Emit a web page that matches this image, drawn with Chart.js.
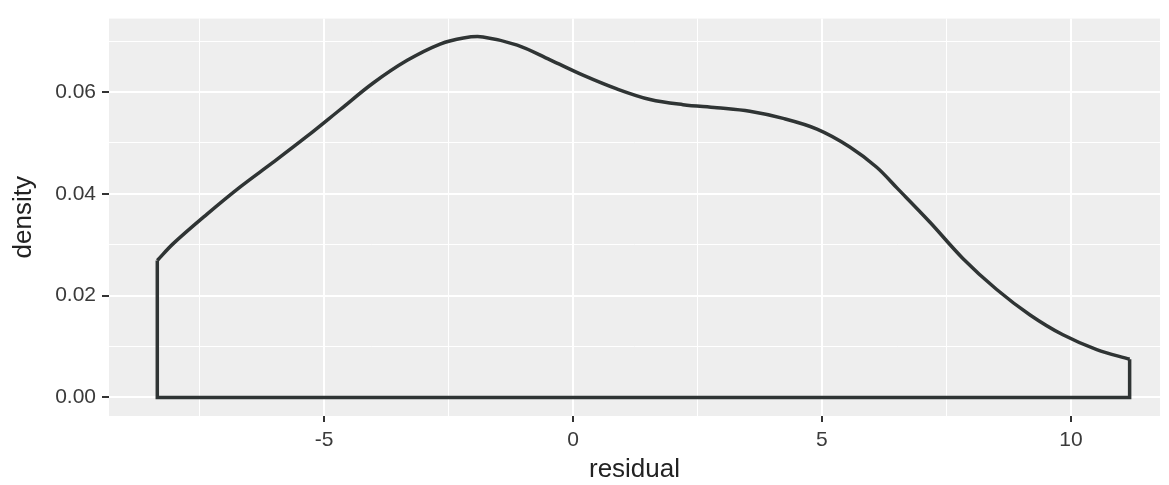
<!DOCTYPE html>
<html>
<head>
<meta charset="utf-8">
<script src="https://cdn.jsdelivr.net/npm/chart.js@4"></script>
<style>
  html, body { margin: 0; padding: 0; background: #ffffff; }
  #wrap { width: 1169px; height: 485px; }
</style>
</head>
<body>
<div id="wrap"><canvas id="c" width="1169" height="485"></canvas></div>
<script>
// ---- data ----
const residualX = [-8.35, -8.03, -7.35, -6.69, -6.02, -5.34, -4.68, -4.02, -3.33, -2.67, -2.20, -1.81, -1.12, -0.46, 0.20, 0.88, 1.55, 2.21, 2.89, 3.55, 4.22, 4.90, 5.56, 6.10, 6.51, 7.17, 7.83, 8.51, 9.18, 9.84, 10.52, 11.18];
const densityY  = [0.0269, 0.0302, 0.0360, 0.0413, 0.0462, 0.0513, 0.0565, 0.0617, 0.0662, 0.0694, 0.0706, 0.0708, 0.0692, 0.0663, 0.0633, 0.0606, 0.0585, 0.0575, 0.0569, 0.0562, 0.0548, 0.0527, 0.0492, 0.0452, 0.0411, 0.0344, 0.0273, 0.0212, 0.0162, 0.0123, 0.0094, 0.0075];
const xGridValues = [-7.5, -5, -2.5, 0, 2.5, 5, 7.5, 10];
const xTickLabels = ['-5', '0', '5', '10'];
const yGridValues = [0, 0.01, 0.02, 0.03, 0.04, 0.05, 0.06, 0.07];
const yTickLabels = ['0.00', '0.02', '0.04', '0.06'];
const xTitle = 'residual';
const yTitle = 'density';

// ---- derived structures ----
const curvePoints = residualX.map((x, i) => ({ x: x, y: densityY[i] }));
const n = residualX.length;
const framePoints = [
  { x: residualX[0], y: densityY[0] },
  { x: residualX[0], y: 0 },
  { x: residualX[n - 1], y: 0 },
  { x: residualX[n - 1], y: densityY[n - 1] }
];

function labelFor(v, labels) {
  for (const l of labels) {
    if (Math.abs(parseFloat(l) - v) < 1e-9) return l;
  }
  return '';
}
function isMajor(v, labels) { return labelFor(v, labels) !== ''; }

const panelBg = {
  id: 'panelBg',
  beforeDraw(chart) {
    const a = chart.chartArea, ctx = chart.ctx;
    ctx.save();
    ctx.fillStyle = '#EEEEEE';
    ctx.fillRect(a.left, a.top, a.right - a.left, a.bottom - a.top);
    ctx.restore();
  }
};

const LINE = '#2f3434';
const TICKTXT = '#3a3a3a';

new Chart(document.getElementById('c'), {
  type: 'scatter',
  data: {
    datasets: [
      {
        data: curvePoints,
        showLine: true,
        borderColor: LINE,
        borderWidth: 3.5,
        pointRadius: 0,
        tension: 0.35,
        fill: false
      },
      {
        data: framePoints,
        showLine: true,
        borderColor: LINE,
        borderWidth: 3.5,
        pointRadius: 0,
        tension: 0,
        fill: false
      }
    ]
  },
  plugins: [panelBg],
  options: {
    responsive: false,
    animation: false,
    layout: { padding: { top: 10, right: 9, left: 0, bottom: 0 } },
    plugins: { legend: { display: false }, tooltip: { enabled: false } },
    scales: {
      x: {
        type: 'linear',
        min: -9.32,
        max: 11.79,
        afterBuildTicks(scale) { scale.ticks = xGridValues.map(v => ({ value: v })); },
        afterFit(scale) { scale.height = 69; },
        border: { display: false },
        grid: {
          color: '#ffffff',
          lineWidth: ctx => isMajor(ctx.tick.value, xTickLabels) ? 2 : 1,
          tickColor: ctx => isMajor(ctx.tick.value, xTickLabels) ? '#333333' : 'rgba(0,0,0,0)',
          tickLength: 6,
          tickWidth: 2,
          drawTicks: true
        },
        ticks: {
          autoSkip: false,
          maxRotation: 0,
          padding: 6,
          color: TICKTXT,
          font: { family: 'Liberation Sans, Arial, sans-serif', size: 21 },
          callback: v => labelFor(v, xTickLabels)
        },
        title: {
          display: true,
          text: xTitle,
          color: '#222222',
          font: { family: 'Liberation Sans, Arial, sans-serif', size: 26 },
          padding: { top: 4, bottom: 0 }
        }
      },
      y: {
        type: 'linear',
        min: -0.00365,
        max: 0.0744,
        afterBuildTicks(scale) { scale.ticks = yGridValues.map(v => ({ value: v })); },
        afterFit(scale) { scale.width = 109; },
        border: { display: false },
        grid: {
          color: '#ffffff',
          lineWidth: ctx => isMajor(ctx.tick.value, yTickLabels) ? 2 : 1,
          tickColor: ctx => isMajor(ctx.tick.value, yTickLabels) ? '#333333' : 'rgba(0,0,0,0)',
          tickLength: 7,
          tickWidth: 2,
          drawTicks: true
        },
        ticks: {
          autoSkip: false,
          padding: 6,
          color: TICKTXT,
          font: { family: 'Liberation Sans, Arial, sans-serif', size: 21 },
          callback: v => labelFor(v, yTickLabels)
        },
        title: {
          display: true,
          text: yTitle,
          color: '#222222',
          font: { family: 'Liberation Sans, Arial, sans-serif', size: 26 },
          padding: { top: 8, bottom: 0 }
        }
      }
    }
  }
});
</script>
</body>
</html>
